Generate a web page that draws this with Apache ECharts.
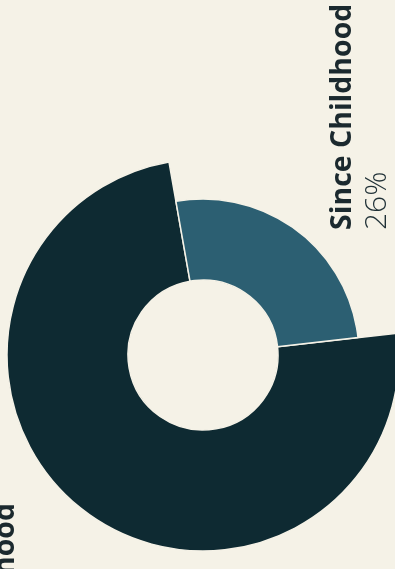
<!DOCTYPE html>
<html>
<head>
<meta charset="utf-8">
<script src="https://cdn.jsdelivr.net/npm/echarts@6/dist/echarts.min.js"></script>
<style>
html,body{margin:0;padding:0;background:#f5f2e7;}
#c{width:395px;height:569px;}
</style>
</head>
<body>
<div id="c"></div>
<script>
const categories = ['Since Childhood', 'Since Adulthood'];
const values = [26, 74];
const valueLabels = ['26%', '74%'];

const bg = '#f5f2e7';
const colors = ['#2c5f72', '#0e2a32'];
const outerRadii = [156, 196];

const chart = echarts.init(document.getElementById('c'), null, {renderer: 'canvas'});

function seriesFor(k) {
  return {
    type: 'pie',
    radius: [75, outerRadii[k]],
    center: [203, 355],
    startAngle: 100,
    clockwise: true,
    silent: true,
    animation: false,
    avoidLabelOverlap: false,
    label: {show: false},
    labelLine: {show: false},
    emphasis: {disabled: true},
    data: categories.map((c, i) => ({
      name: c,
      value: values[i],
      itemStyle: {
        color: i === k ? colors[k] : 'rgba(0,0,0,0)',
        borderColor: i === k ? bg : 'rgba(0,0,0,0)',
        borderWidth: i === k ? 1.5 : 0
      }
    }))
  };
}

chart.setOption({
  backgroundColor: bg,
  animation: false,
  series: [seriesFor(1), seriesFor(0)],
  graphic: [
    {
      type: 'text', x: 343, y: 230, rotation: Math.PI / 2, silent: true,
      style: {text: categories[0], font: 'bold 28.5px "Open Sans"', fill: '#1b292e', align: 'left', verticalAlign: 'middle'}
    },
    {
      type: 'text', x: 377, y: 230, rotation: Math.PI / 2, silent: true,
      style: {text: valueLabels[0], font: '300 30px "Open Sans"', fill: '#1f3036', align: 'left', verticalAlign: 'middle'}
    },
    {
      type: 'text', x: 6, y: 503, rotation: Math.PI / 2, silent: true,
      style: {text: categories[1], font: 'bold 28.5px "Open Sans"', fill: '#1b292e', align: 'right', verticalAlign: 'middle'}
    }
  ]
});
</script>
</body>
</html>
